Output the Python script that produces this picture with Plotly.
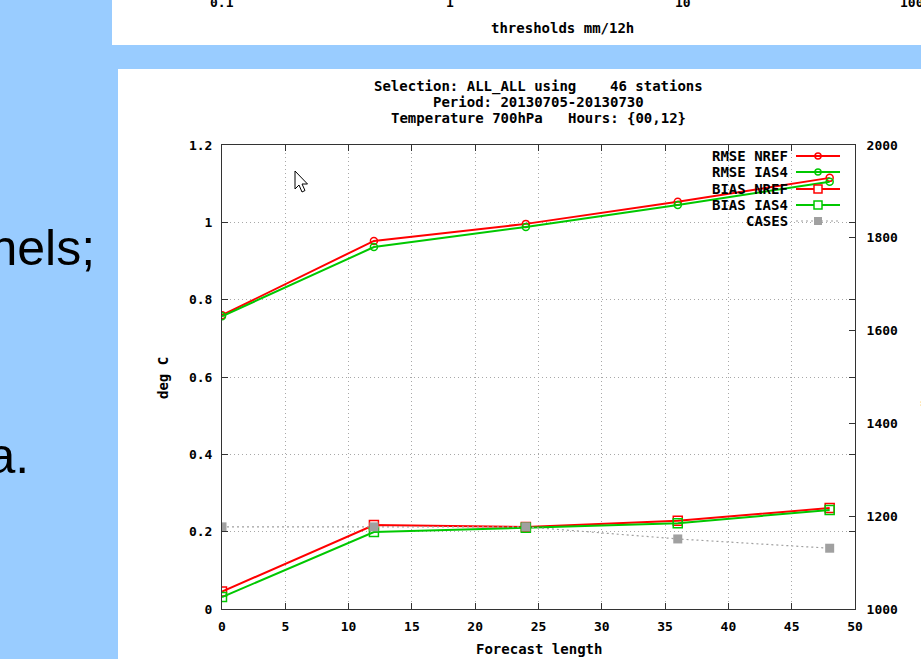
import plotly.graph_objects as go

W, H = 921, 659

# ---- data ----
forecast = [0, 12, 24, 36, 48]
rmse_nref = [0.760, 0.952, 0.996, 1.053, 1.115]
rmse_ias4 = [0.757, 0.936, 0.988, 1.045, 1.105]
bias_nref = [0.045, 0.217, 0.212, 0.228, 0.261]
bias_ias4 = [0.031, 0.199, 0.210, 0.222, 0.256]
cases = [1177, 1177, 1177, 1151, 1131]

x_ticks = [0, 5, 10, 15, 20, 25, 30, 35, 40, 45, 50]
y_ticks = [0, 0.2, 0.4, 0.6, 0.8, 1.0, 1.2]
y_tick_text = ["0", "0.2", "0.4", "0.6", "0.8", "1", "1.2"]
y2_ticks = [1000, 1200, 1400, 1600, 1800, 2000]
top_tick_labels = ["0.1", "1", "10", "100"]
legend_names = ["RMSE NREF", "RMSE IAS4", "BIAS NREF", "BIAS IAS4", "CASES"]
title_lines = ["Selection: ALL_ALL using    46 stations",
               "Period: 20130705-20130730",
               "Temperature 700hPa   Hours: {00,12}"]

RED = "#ff0000"
GREEN = "#00c800"
GRAY = "#a0a0a0"
BLUE = "#99ccff"
FONT = "DejaVu Sans Mono"


def px(x):
    return x / W


def py(y):
    return 1 - y / H


tick_font = dict(family=FONT, size=13, color="#000000", weight="bold")
text_font = dict(family=FONT, size=14, color="#000000", weight="bold")

fig = go.Figure()

fig.add_trace(go.Scatter(x=forecast, y=rmse_nref, mode="lines+markers", name=legend_names[0],
                         line=dict(color=RED, width=2),
                         marker=dict(symbol="circle-open", size=7, color=RED, line=dict(width=1.5))))
fig.add_trace(go.Scatter(x=forecast, y=rmse_ias4, mode="lines+markers", name=legend_names[1],
                         line=dict(color=GREEN, width=2),
                         marker=dict(symbol="circle-open", size=7, color=GREEN, line=dict(width=1.5))))
fig.add_trace(go.Scatter(x=forecast, y=bias_nref, mode="lines+markers", name=legend_names[2],
                         line=dict(color=RED, width=2),
                         marker=dict(symbol="square-open", size=9, color=RED, line=dict(width=1.5))))
fig.add_trace(go.Scatter(x=forecast, y=bias_ias4, mode="lines+markers", name=legend_names[3],
                         line=dict(color=GREEN, width=2),
                         marker=dict(symbol="square-open", size=9, color=GREEN, line=dict(width=1.5))))
fig.add_trace(go.Scatter(x=forecast, y=cases, mode="lines+markers", name=legend_names[4], yaxis="y2",
                         line=dict(color=GRAY, width=1.2, dash="2px,3px"),
                         marker=dict(symbol="square", size=9, color=GRAY)))

shapes = []
# slide panels
shapes.append(dict(type="rect", xref="paper", yref="paper", x0=px(112), x1=1, y0=1, y1=py(45),
                   fillcolor="white", line=dict(width=0), layer="below"))
shapes.append(dict(type="rect", xref="paper", yref="paper", x0=px(118), x1=1, y0=py(69), y1=0,
                   fillcolor="white", line=dict(width=0), layer="below"))

annotations = []
# slide text on the left
annotations.append(dict(text="channels;", xref="paper", yref="paper", x=px(97), y=py(248),
                        xanchor="right", yanchor="middle", showarrow=False,
                        font=dict(family="Liberation Sans", size=50, color="#000000")))
annotations.append(dict(text="data.", xref="paper", yref="paper", x=px(31), y=py(456),
                        xanchor="right", yanchor="middle", showarrow=False,
                        font=dict(family="Liberation Sans", size=50, color="#000000")))

# top panel remnants
for lab, xx in zip(top_tick_labels, [222, 450, 683, 912]):
    annotations.append(dict(text=lab, xref="paper", yref="paper", x=px(xx), y=py(3),
                            xanchor="center", yanchor="middle", showarrow=False, font=tick_font))
annotations.append(dict(text="thresholds mm/12h", xref="paper", yref="paper", x=px(562), y=py(28),
                        xanchor="center", yanchor="middle", showarrow=False, font=text_font))

# title
for i, t in enumerate(title_lines):
    annotations.append(dict(text=t.replace(" ", "&nbsp;"), xref="paper", yref="paper", x=px(538), y=py(87 + 15.5 * i),
                            xanchor="center", yanchor="middle", showarrow=False, font=text_font))

# axis titles
annotations.append(dict(text="Forecast length", xref="paper", yref="paper", x=px(539), y=py(649),
                        xanchor="center", yanchor="middle", showarrow=False, font=text_font))
annotations.append(dict(text="deg C", xref="paper", yref="paper", x=px(163), y=py(378), textangle=-90,
                        xanchor="center", yanchor="middle", showarrow=False, font=text_font))
annotations.append(dict(text="# cases", xref="paper", yref="paper", x=px(926), y=py(380), textangle=-90,
                        xanchor="center", yanchor="middle", showarrow=False, font=text_font))

# manual gnuplot-style legend
rows = [156, 172, 189, 205, 221]
styles = [(RED, "circle"), (GREEN, "circle"), (RED, "square"), (GREEN, "square"), (GRAY, "filled")]
for name, ry, (col, kind) in zip(legend_names, rows, styles):
    annotations.append(dict(text=name.replace(" ", "&nbsp;"), xref="paper", yref="paper", x=px(790), y=py(ry),
                            xanchor="right", yanchor="middle", showarrow=False, font=text_font))
    shapes.append(dict(type="line", xref="paper", yref="paper", x0=px(796), x1=px(840), y0=py(ry), y1=py(ry),
                       line=dict(color=col, width=2 if kind != "filled" else 1.2,
                                 dash="solid" if kind != "filled" else "2px,3px")))
    if kind == "circle":
        shapes.append(dict(type="circle", xref="paper", yref="paper", x0=px(815), x1=px(821),
                           y0=py(ry - 3), y1=py(ry + 3), line=dict(color=col, width=1.5)))
    elif kind == "square":
        shapes.append(dict(type="rect", xref="paper", yref="paper", x0=px(814), x1=px(822),
                           y0=py(ry - 4), y1=py(ry + 4), line=dict(color=col, width=1.5), fillcolor="white"))
    else:
        shapes.append(dict(type="rect", xref="paper", yref="paper", x0=px(814), x1=px(822),
                           y0=py(ry - 4), y1=py(ry + 4), line=dict(color=col, width=0), fillcolor=col))

# mouse cursor artifact
pts = [(295, 171), (295, 189), (299, 185), (302, 192), (305, 190.5), (302, 184), (307.5, 184)]
path = "M " + " L ".join(f"{px(a)},{py(b)}" for a, b in pts) + " Z"
shapes.append(dict(type="path", xref="paper", yref="paper", path=path,
                   fillcolor="white", line=dict(color="#000000", width=1)))

axis_common = dict(ticks="inside", ticklen=6, tickcolor="#333", showline=True, linecolor="#333",
                   linewidth=1, zeroline=False, tickfont=tick_font, automargin=False)

fig.update_layout(
    template="none",
    width=W, height=H, autosize=False,
    margin=dict(l=0, r=0, t=0, b=0, pad=0, autoexpand=False),
    paper_bgcolor=BLUE, plot_bgcolor="white",
    showlegend=False,
    shapes=shapes, annotations=annotations,
    xaxis=dict(domain=[px(222), px(855)], range=[0, 50], tickvals=x_ticks, mirror="ticks",
               showgrid=True, gridcolor="#a8a8a8", griddash="1px,3px", gridwidth=1,
               ticklabelstandoff=5, **axis_common),
    yaxis=dict(domain=[py(609), py(145)], range=[0, 1.2], tickvals=y_ticks, ticktext=y_tick_text,
               mirror="ticks", showgrid=True, gridcolor="#a8a8a8", griddash="1px,3px", gridwidth=1,
               ticklabelstandoff=6, **axis_common),
    yaxis2=dict(overlaying="y", side="right", range=[1000, 2000], tickvals=y2_ticks,
                showgrid=False, ticklabelstandoff=8, **axis_common),
)

fig.write_html("out.html")
